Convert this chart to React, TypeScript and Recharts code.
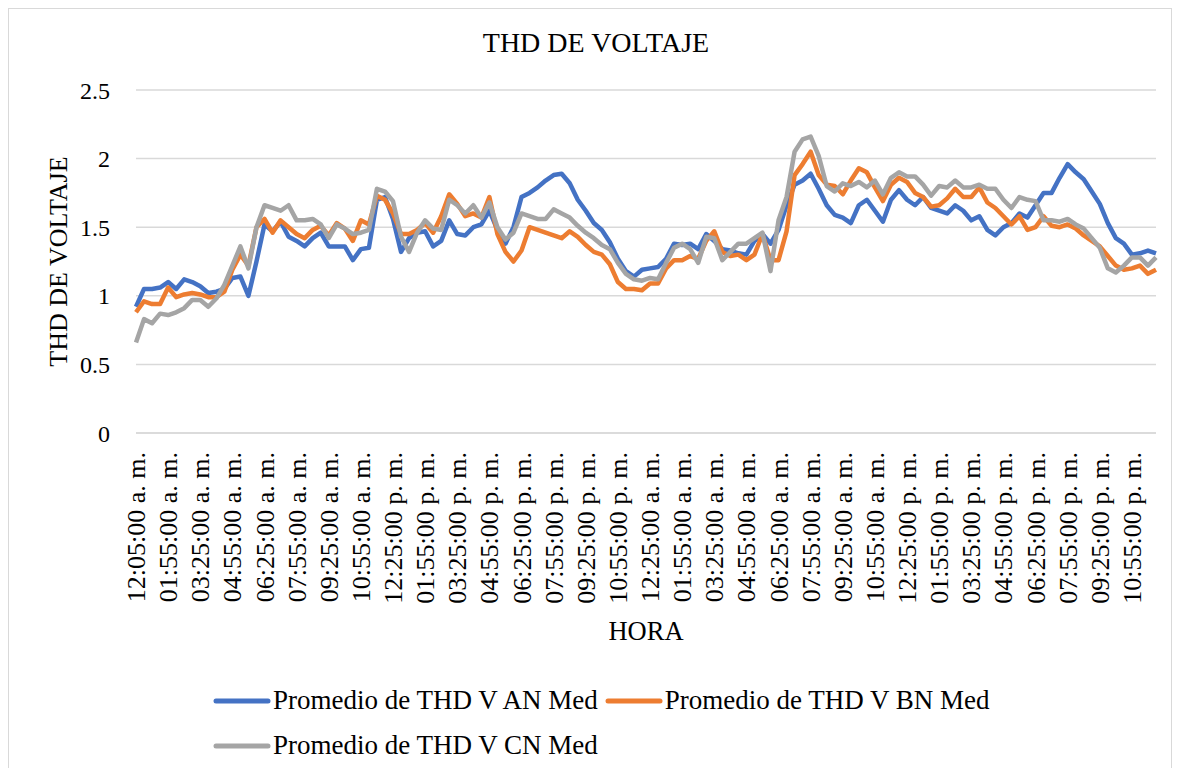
import { LineChart, Line, XAxis, YAxis, CartesianGrid, Legend } from "recharts";

// etiquetas del eje de hora (una cada 4 muestras)
const HORAS = [
  "12:05:00 a. m.", "01:55:00 a. m.", "03:25:00 a. m.", "04:55:00 a. m.",
  "06:25:00 a. m.", "07:55:00 a. m.", "09:25:00 a. m.", "10:55:00 a. m.",
  "12:25:00 p. m.", "01:55:00 p. m.", "03:25:00 p. m.", "04:55:00 p. m.",
  "06:25:00 p. m.", "07:55:00 p. m.", "09:25:00 p. m.", "10:55:00 p. m.",
  "12:25:00 a. m.", "01:55:00 a. m.", "03:25:00 a. m.", "04:55:00 a. m.",
  "06:25:00 a. m.", "07:55:00 a. m.", "09:25:00 a. m.", "10:55:00 a. m.",
  "12:25:00 p. m.", "01:55:00 p. m.", "03:25:00 p. m.", "04:55:00 p. m.",
  "06:25:00 p. m.", "07:55:00 p. m.", "09:25:00 p. m.", "10:55:00 p. m.",
];

const Y_TICKS = [0, 0.5, 1, 1.5, 2, 2.5];

const THD_AN = [
  0.92, 1.05, 1.05, 1.06, 1.10, 1.05, 1.12, 1.10, 1.07, 1.02, 1.03, 1.05, 1.13, 1.14, 1.00, 1.25,
  1.52, 1.47, 1.54, 1.43, 1.40, 1.36, 1.42, 1.46, 1.36, 1.36, 1.36, 1.26, 1.34, 1.35, 1.70, 1.72,
  1.56, 1.32, 1.42, 1.46, 1.47, 1.36, 1.40, 1.55, 1.45, 1.44, 1.50, 1.52, 1.62, 1.48, 1.38, 1.50,
  1.72, 1.75, 1.79, 1.84, 1.88, 1.89, 1.82, 1.70, 1.62, 1.53, 1.48, 1.39, 1.27, 1.18, 1.14, 1.19,
  1.20, 1.21, 1.27, 1.38, 1.37, 1.38, 1.34, 1.45, 1.40, 1.34, 1.33, 1.31, 1.30, 1.40, 1.45, 1.38,
  1.48, 1.66, 1.81, 1.84, 1.89, 1.78, 1.66, 1.59, 1.57, 1.53, 1.66, 1.70, 1.62, 1.54, 1.70, 1.77,
  1.70, 1.66, 1.72, 1.64, 1.62, 1.60, 1.66, 1.62, 1.55, 1.58, 1.48, 1.44, 1.50, 1.53, 1.60, 1.57,
  1.66, 1.75, 1.75, 1.86, 1.96, 1.90, 1.85, 1.76, 1.67, 1.53, 1.42, 1.38, 1.30, 1.31, 1.33, 1.31,
];

const THD_BN = [
  0.88, 0.96, 0.94, 0.94, 1.06, 0.99, 1.01, 1.02, 1.01, 0.99, 0.99, 1.03, 1.19, 1.30, 1.22, 1.50,
  1.56, 1.46, 1.55, 1.50, 1.45, 1.42, 1.48, 1.51, 1.44, 1.53, 1.49, 1.40, 1.55, 1.52, 1.73, 1.70,
  1.60, 1.45, 1.45, 1.48, 1.53, 1.46, 1.58, 1.74, 1.67, 1.58, 1.60, 1.57, 1.72, 1.45, 1.32, 1.25,
  1.33, 1.50, 1.48, 1.46, 1.44, 1.42, 1.47, 1.43, 1.37, 1.32, 1.30, 1.23, 1.10, 1.05, 1.05, 1.04,
  1.09, 1.09, 1.20, 1.26, 1.26, 1.29, 1.27, 1.40, 1.47, 1.32, 1.29, 1.30, 1.26, 1.30, 1.45, 1.26,
  1.26, 1.47, 1.88, 1.96, 2.05, 1.88, 1.81, 1.80, 1.74, 1.84, 1.93, 1.90, 1.79, 1.69, 1.81, 1.86,
  1.83, 1.75, 1.72, 1.65, 1.66, 1.71, 1.78, 1.72, 1.72, 1.79, 1.68, 1.64, 1.58, 1.52, 1.58, 1.48,
  1.50, 1.58, 1.51, 1.50, 1.52, 1.49, 1.44, 1.40, 1.36, 1.29, 1.22, 1.19, 1.20, 1.22, 1.16, 1.19,
];

const THD_CN = [
  0.66, 0.83, 0.80, 0.87, 0.86, 0.88, 0.91, 0.97, 0.97, 0.92, 0.98, 1.08, 1.22, 1.36, 1.20, 1.50,
  1.66, 1.64, 1.62, 1.66, 1.55, 1.55, 1.56, 1.52, 1.42, 1.52, 1.49, 1.45, 1.46, 1.48, 1.78, 1.76,
  1.69, 1.43, 1.32, 1.46, 1.55, 1.49, 1.48, 1.70, 1.66, 1.60, 1.66, 1.57, 1.68, 1.50, 1.41, 1.46,
  1.60, 1.58, 1.56, 1.56, 1.63, 1.60, 1.57, 1.51, 1.46, 1.42, 1.37, 1.34, 1.24, 1.16, 1.12, 1.11,
  1.13, 1.12, 1.24, 1.35, 1.38, 1.34, 1.24, 1.43, 1.42, 1.26, 1.32, 1.38, 1.38, 1.42, 1.46, 1.18,
  1.55, 1.72, 2.05, 2.14, 2.16, 2.02, 1.80, 1.76, 1.82, 1.80, 1.83, 1.79, 1.84, 1.74, 1.86, 1.90,
  1.87, 1.87, 1.81, 1.73, 1.80, 1.79, 1.84, 1.79, 1.79, 1.81, 1.78, 1.78, 1.70, 1.64, 1.72, 1.70,
  1.69, 1.55, 1.55, 1.54, 1.56, 1.52, 1.49, 1.42, 1.35, 1.20, 1.17, 1.22, 1.28, 1.28, 1.22, 1.28,
];

const rows = THD_AN.map((an, i) => ({ t: i, an, bn: THD_BN[i], cn: THD_CN[i] }));

const HoraTick = (props: any) => {
  const { x, y, payload } = props;
  return (
    <text
      x={x}
      y={y}
      transform={`rotate(-90 ${x} ${y})`}
      textAnchor="end"
      dy="0.35em"
      fontSize={26}
      fill="#000"
    >
      {HORAS[payload.value / 4]}
    </text>
  );
};

const Leyenda = ({ payload }: any) => (
  <div style={{ display: "flex", flexWrap: "wrap", width: 790, marginLeft: 204, paddingTop: 23, columnGap: 7 }}>
    {(payload || []).map((entry: any) => (
      <div key={entry.value} style={{ display: "flex", alignItems: "center", height: 45 }}>
        <svg width={58} height={10}>
          <line x1={3} y1={5} x2={55} y2={5} stroke={entry.color} strokeWidth={5} strokeLinecap="round" />
        </svg>
        <span style={{ fontSize: 27, marginLeft: 2, color: "#000", whiteSpace: "nowrap" }}>{entry.value}</span>
      </div>
    ))}
  </div>
);

export default function App() {
  return (
    <div
      style={{
        position: "relative",
        width: 1162,
        height: 766,
        marginBottom: -8,
        border: "1px solid #d9d9d9",
        background: "#fff",
        fontFamily: '"Liberation Serif", "Times New Roman", serif',
        overflow: "hidden",
      }}
    >
      <div style={{ position: "absolute", top: 20, left: 12, right: 0, textAlign: "center", fontSize: 28, lineHeight: "28px", color: "#000" }}>
        THD DE VOLTAJE
      </div>
      <LineChart width={1162} height={759} data={rows} margin={{ top: 81, right: 15, left: 0, bottom: 0 }}>
        <CartesianGrid vertical={false} stroke="#d9d9d9" strokeWidth={1.5} />
        <XAxis
          dataKey="t"
          interval={3}
          tickLine={false}
          tickSize={0}
          tickMargin={19}
          axisLine={{ stroke: "#d9d9d9", strokeWidth: 1.5 }}
          height={222}
          tick={<HoraTick />}
          label={{ value: "HORA", position: "insideBottom", offset: 15, fill: "#000", fontSize: 26.5 }}
        />
        <YAxis
          domain={[0, 2.5]}
          ticks={Y_TICKS}
          axisLine={false}
          tickLine={false}
          tickSize={0}
          tickMargin={26}
          width={127}
          tick={{ fill: "#000", fontSize: 24 }}
          label={{
            value: "THD DE VOLTAJE",
            angle: -90,
            position: "insideLeft",
            offset: 49,
            fill: "#000",
            fontSize: 26,
            style: { textAnchor: "middle" },
          }}
        />
        <Legend verticalAlign="bottom" content={<Leyenda />} />
        <Line type="linear" dataKey="an" name="Promedio de THD V AN Med" stroke="#4472C4" strokeWidth={4.5} strokeLinejoin="round" dot={false} isAnimationActive={false} />
        <Line type="linear" dataKey="bn" name="Promedio de THD V BN Med" stroke="#ED7D31" strokeWidth={4.5} strokeLinejoin="round" dot={false} isAnimationActive={false} />
        <Line type="linear" dataKey="cn" name="Promedio de THD V CN Med" stroke="#A5A5A5" strokeWidth={4.5} strokeLinejoin="round" dot={false} isAnimationActive={false} />
      </LineChart>
    </div>
  );
}
